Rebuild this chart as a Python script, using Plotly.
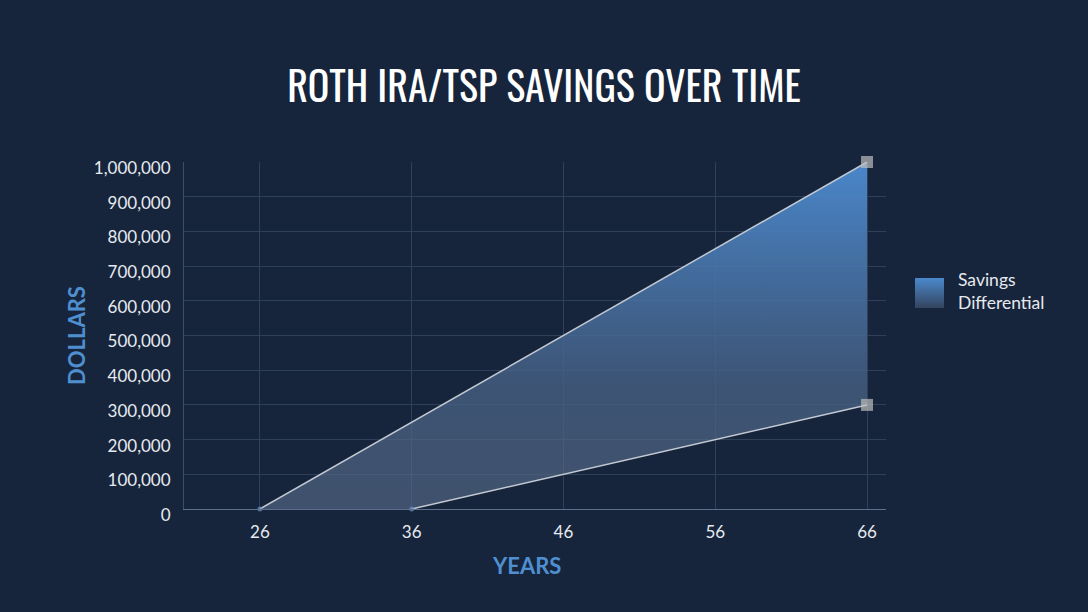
import plotly.graph_objects as go

# datos
years = [26, 36, 46, 56, 66]
roth_years = [26, 66]
roth_values = [0, 1000000]
tsp_years = [36, 66]
tsp_values = [0, 300000]
y_ticks = list(range(0, 1000001, 100000))

bg = "#16253b"
grid = "#2f405a"
text_col = "#e6eaf0"
blue = "#4f8fd0"
W, H = 1088, 612
L, T, B = 184, 162, 103          # margenes del area de trazado
PW, PH = W - L, H - T - B        # ancho/alto util (margen derecho = 0)

fig = go.Figure()

# area entre las dos curvas (poligono)
fig.add_trace(go.Scatter(
    x=roth_years + tsp_years[::-1] + roth_years[:1],
    y=roth_values + tsp_values[::-1] + roth_values[:1],
    fill="toself", mode="none", showlegend=False,
    fillcolor="#4a7fb8",
    fillgradient=dict(type="vertical",
                      colorscale=[[0, "rgba(90,110,140,0.6)"], [0.35, "rgba(70,95,130,0.8)"],
                                  [1, "rgba(76,140,210,0.95)"]]),
    hoverinfo="skip",
))

# lineas con marcadores
for xs, ys in [(roth_years, roth_values), (tsp_years, tsp_values)]:
    fig.add_trace(go.Scatter(x=xs, y=ys, mode="lines+markers", cliponaxis=False,
                             line=dict(color="#c3c9d3", width=1.5),
                             marker=dict(symbol=["circle", "square"], size=[5, 12],
                                         color=["#6f8fbf", "#bdbdbd"], line=dict(width=0)),
                             showlegend=False))

# leyenda hecha a mano (cuadro con degradado)
fig.add_trace(go.Scatter(
    x=[0, 1, 1, 0, 0], y=[0, 0, 1, 1, 0], xaxis="x2", yaxis="y2",
    fill="toself", mode="none", showlegend=False, hoverinfo="skip",
    fillgradient=dict(type="vertical", colorscale=[[0, "#34445e"], [1, "#4b89cc"]]),
))
fig.add_annotation(text="Savings<br>Differential", xref="paper", yref="paper",
                   x=(956 - L)/PW, y=(H - B - 291)/PH, xanchor="left", yanchor="middle",
                   align="left", showarrow=False, font=dict(size=17.5, color=text_col))
# titulo del eje x (un poco a la izquierda del centro, como en el original)
fig.add_annotation(text="<b>YEARS</b>", xref="paper", yref="paper",
                   x=(526 - L)/PW, y=(H - B - 565)/PH, xanchor="center", yanchor="middle",
                   showarrow=False, font=dict(size=22, color=blue))

fig.update_layout(
    width=W, height=H,
    paper_bgcolor=bg, plot_bgcolor=bg,
    margin=dict(l=L, r=0, t=T, b=B, autoexpand=False),
    font=dict(family="Lato, 'Noto Sans', sans-serif", color=text_col, size=17),
    title=dict(text="ROTH IRA/TSP SAVINGS OVER TIME", x=0.5, xanchor="center",
               y=1 - 88/H, yref="container", yanchor="middle",
               font=dict(family="Oswald, 'Liberation Sans Narrow', 'DejaVu Sans Condensed', sans-serif",
                         size=40, color="#ffffff")),
    xaxis=dict(
        domain=[0, (886 - L)/PW], automargin=False,
        range=[21, 67.25], tickvals=years, ticktext=[str(v) for v in years],
        showgrid=True, gridcolor=grid, gridwidth=1, zeroline=False,
        showline=True, linecolor="#5d6f8a", linewidth=1,
        ticks="", ticklabelstandoff=8,
    ),
    yaxis=dict(
        domain=[0, 1], automargin=False,
        range=[0, 1000000], tickvals=y_ticks, tickformat=",",
        showgrid=True, gridcolor=grid, gridwidth=1, zeroline=False,
        showline=True, linecolor="#3b4d68", linewidth=1,
        ticks="", ticklabelstandoff=9, ticklabelshift=6,
        title=dict(text="<b>DOLLARS</b>", font=dict(size=22, color=blue), standoff=2),
    ),
    xaxis2=dict(domain=[(915 - L)/PW, (944 - L)/PW], range=[0, 1], visible=False, anchor="y2"),
    yaxis2=dict(domain=[(H - B - 308)/PH, (H - B - 278)/PH], range=[0, 1], visible=False, anchor="x2"),
)

fig.write_html("out.html", config={"displayModeBar": False},
               post_script="document.body.style.margin='0px';")
